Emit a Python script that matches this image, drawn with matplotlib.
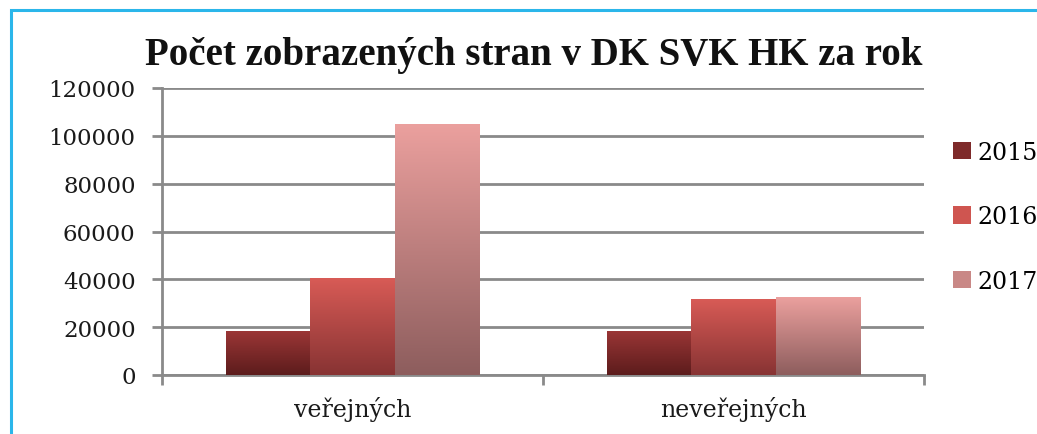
import numpy as np
import matplotlib
matplotlib.use("Agg")
import matplotlib.pyplot as plt
from matplotlib.patches import Rectangle, Patch
from matplotlib.colors import LinearSegmentedColormap

categories = ["veřejných", "neveřejných"]
years = ["2015", "2016", "2017"]
values_2015 = [18200, 18600]
values_2016 = [40500, 31600]
values_2017 = [104900, 32600]
yticks = [0, 20000, 40000, 60000, 80000, 100000, 120000]
title = "Počet zobrazených stran v DK SVK HK za rok"

series = [values_2015, values_2016, values_2017]
grads = [("#9B3636", "#5C1C1C"), ("#D85B56", "#873333"), ("#EBA09E", "#8D5D5D")]
mids = ["#7E2A2A", "#CF5550", "#C98886"]

W, H = 1037, 435
fig = plt.figure(figsize=(W / 100, H / 100), dpi=100)
fig.patch.set_facecolor("white")

# frame border (cut off at right/bottom)
fig.patches.append(Rectangle((11 / W, -0.1), 1.2, 1 - 11 / H + 0.1, transform=fig.transFigure,
                             fill=False, edgecolor="#2BB6EA", linewidth=2.2, zorder=0))

ax = fig.add_axes([162 / W, (H - 376) / H, (924 - 162) / W, (376 - 89) / H])

bw = 0.222
x = np.arange(len(categories)) + 0.5
for i, vals in enumerate(series):
    bars = ax.bar(x + (i - 1) * bw, vals, width=bw, color=mids[i], zorder=3, linewidth=0)
    cmap = LinearSegmentedColormap.from_list("g%d" % i, [grads[i][1], grads[i][0]])
    for b in bars:
        bx, by = b.get_x(), b.get_y()
        bwid, bh = b.get_width(), b.get_height()
        grad = np.linspace(0, 1, 256).reshape(-1, 1)
        im = ax.imshow(grad, cmap=cmap, aspect="auto", origin="lower",
                       extent=[bx, bx + bwid, by, by + bh], zorder=4)
        im.set_clip_path(b)
ax.set_xlim(0, 2)
ax.set_ylim(0, 120000)

ax.set_yticks(yticks)
ax.set_yticklabels([str(v) for v in yticks])
ax.yaxis.grid(True, color="#8A8A8A", linewidth=2.0, zorder=1)
ax.set_axisbelow(True)
ax.set_xticks([0, 1, 2])
ax.set_xticklabels([])
ax.set_xticks(x, minor=True)
ax.set_xticklabels(categories, minor=True)
ax.tick_params(axis="x", which="minor", length=0, pad=15, labelsize=17)
ax.tick_params(axis="x", which="major", length=7, width=2, color="#8A8A8A", direction="out")
ax.tick_params(axis="y", length=7, width=2, color="#8A8A8A", pad=12, labelsize=16.5)
for lab in ax.get_yticklabels() + ax.get_xticklabels(minor=True):
    lab.set_fontfamily("DejaVu Serif")
    lab.set_color("#1a1a1a")

for s in ["top", "right"]:
    ax.spines[s].set_visible(False)
for s in ["left", "bottom"]:
    ax.spines[s].set_color("#8A8A8A")
    ax.spines[s].set_linewidth(2)

fig.text(534 / W, 1 - 55 / H, title, ha="center", va="center", fontsize=28,
         fontweight="bold", family="Liberation Serif", color="#111111")

handles = [Patch(facecolor=mids[i], edgecolor="none") for i in range(3)]
leg = fig.legend(handles, years, loc="upper left", bbox_to_anchor=(953 / W, 1 - 142 / H),
                 frameon=False, prop={"family": "DejaVu Serif", "size": 17},
                 handlelength=0.75, handleheight=0.75, handletextpad=0.3, labelspacing=1.75,
                 borderaxespad=0, borderpad=0)

fig.savefig("out.png", dpi=100, facecolor="white")
